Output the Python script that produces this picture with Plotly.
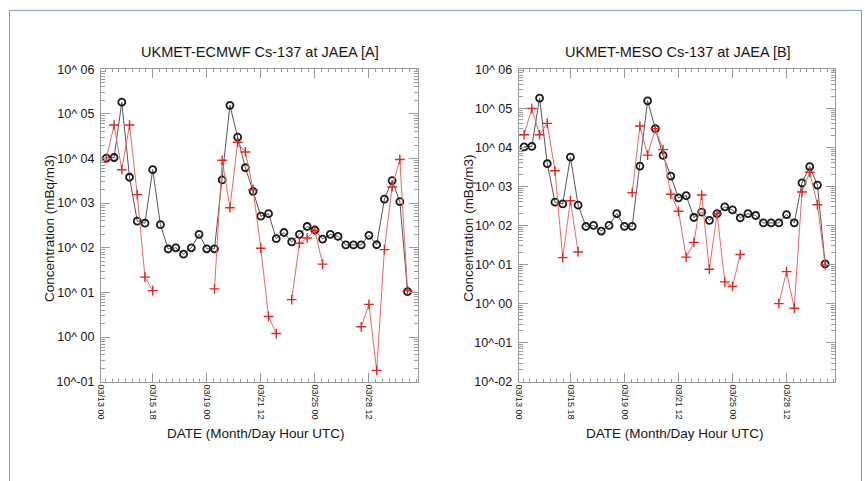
import plotly.graph_objects as go

# ---- data -------------------------------------------------------------
sample = list(range(1, 41))  # measurement sample number (x positions)

tick_pos = [0.3, 7, 14, 21, 28, 35]
tick_labels = ["03/13 00", "03/15 18", "03/19 00", "03/21 12", "03/25 00", "03/28 12"]

# JAEA observed Cs-137 (mBq/m3)
observed = [1.02e4, 1.05e4, 1.82e5, 3.8e3, 3.95e2, 3.55e2, 5.6e3, 3.3e2, 9.4e1, 1.0e2,
            7.2e1, 1.0e2, 2.0e2, 9.5e1, 9.5e1, 3.3e3, 1.55e5, 3.0e4, 6.2e3, 1.84e3,
            5.1e2, 5.8e2, 1.6e2, 2.2e2, 1.35e2, 2.0e2, 3.0e2, 2.5e2, 1.57e2, 2.0e2,
            1.8e2, 1.16e2, 1.16e2, 1.16e2, 1.9e2, 1.17e2, 1.23e3, 3.2e3, 1.08e3, 1.04e1]

# UKMET-ECMWF model
ecmwf = [1.0e4, 5.6e4, 5.6e3, 5.6e4, 1.55e3, 2.2e1, 1.1e1, None, None, None,
         None, None, None, None, 1.2e1, 9.1e3, 7.9e2, 2.3e4, 1.4e4, 2.0e3,
         9.8e1, 2.9e0, 1.2e0, None, 6.9e0, 1.26e2, 1.66e2, 2.45e2, 4.3e1, None,
         None, None, None, 1.7e0, 5.4e0, 1.8e-1, 9.1e1, 2.3e3, 9.5e3, 1.1e1]

# UKMET-MESO model
meso = [2.1e4, 9.8e4, 2.1e4, 4.1e4, 2.5e3, 1.5e1, 4.3e2, 2.1e1, None, None,
        None, None, None, None, 6.9e2, 3.5e4, 6.3e3, 3.0e4, 8.7e3, 6.3e2,
        2.3e2, 1.55e1, 3.7e1, 6.0e2, 7.6e0, 2.0e2, 3.6e0, 2.75e0, 1.8e1, None,
        None, None, None, 1.0e0, 6.6e0, 7.6e-1, 7.2e2, 2.3e3, 3.4e2, 9.8e0]

ytick_vals_a = [1e6, 1e5, 1e4, 1e3, 1e2, 1e1, 1e0, 1e-1]
ytick_text_a = ["10^ 06", "10^ 05", "10^ 04", "10^ 03", "10^ 02", "10^ 01", "10^ 00", "10^-01"]
ytick_vals_b = ytick_vals_a + [1e-2]
ytick_text_b = ytick_text_a + ["10^-02"]

# ---- styling ------------------------------------------------------------
FONT = "Liberation Sans, Arial, Helvetica, sans-serif"
TXT = "#161616"
AXC = "#9a9a9a"
RED = "#e3261d"

fig = go.Figure()

def add_panel(model, xa, ya):
    fig.add_trace(go.Scatter(
        x=sample, y=observed, xaxis=xa, yaxis=ya, mode="lines+markers",
        line=dict(color="#555555", width=1),
        marker=dict(symbol="circle-open", size=7, color="#1a1a1a", line=dict(width=1.8, color="#1a1a1a")),
        showlegend=False, hoverinfo="skip"))
    fig.add_trace(go.Scatter(
        x=sample, y=model, xaxis=xa, yaxis=ya, mode="lines+markers", connectgaps=False,
        line=dict(color="#e66a62", width=1),
        marker=dict(symbol="cross-thin", size=7, color=RED, line=dict(width=1.4, color=RED)),
        showlegend=False, hoverinfo="skip"))

add_panel(ecmwf, "x", "y")
add_panel(meso, "x2", "y2")

def minor_vals(lo, hi):
    out = []
    for e in range(lo, hi):
        for m in range(2, 10):
            out.append(m * 10.0 ** e)
    return out

def xaxis_cfg(domain, anchor):
    return dict(domain=domain, anchor=anchor, range=[0.3, 41.3], showgrid=False, zeroline=False,
                showline=True, linecolor=AXC, linewidth=1, mirror="allticks",
                ticks="inside", ticklen=9, tickcolor=AXC, tickwidth=1,
                tickmode="array", tickvals=tick_pos, ticktext=tick_labels, tickangle=90,
                tickfont=dict(family=FONT, size=9, color=TXT),
                minor=dict(ticks="inside", ticklen=3, tickcolor=AXC, tick0=0, dtick=0.875, showgrid=False))

def yaxis_cfg(domain, anchor, rng, tv, tt, lo, hi):
    return dict(domain=domain, anchor=anchor, type="log", range=rng, showgrid=False, zeroline=False,
                showline=True, linecolor=AXC, linewidth=1, mirror="allticks",
                ticks="inside", ticklen=9, tickcolor=AXC, tickwidth=1,
                tickmode="array", tickvals=tv, ticktext=tt, ticklabelstandoff=3,
                tickfont=dict(family=FONT, size=12.5, color=TXT),
                minor=dict(ticks="inside", ticklen=4, tickcolor=AXC, tickmode="array",
                           tickvals=minor_vals(lo, hi), showgrid=False))

ydom = [1 - 386 / 481, 1 - 64 / 481]
fig.update_layout(
    width=865, height=481, margin=dict(l=0, r=0, t=0, b=0),
    paper_bgcolor="white", plot_bgcolor="white",
    font=dict(family=FONT, color=TXT),
    xaxis=xaxis_cfg([96.5 / 865, 415 / 865], "y"),
    yaxis=yaxis_cfg(ydom, "x", [-1, 6], ytick_vals_a, ytick_text_a, -1, 6),
    xaxis2=xaxis_cfg([516.7 / 865, 835 / 865], "y2"),
    yaxis2=yaxis_cfg(ydom, "x2", [-2, 6], ytick_vals_b, ytick_text_b, -2, 6),
)

def ann(text, x, y, size, angle=0):
    fig.add_annotation(text=text, x=x, y=y, xref="paper", yref="paper", showarrow=False,
                       xanchor="center", yanchor="middle", textangle=angle,
                       font=dict(family=FONT, size=size, color=TXT))

ann("UKMET-ECMWF Cs-137 at JAEA [A]", 256.5 / 865, 1 - 46 / 481, 14.5)
ann("UKMET-MESO Cs-137 at JAEA [B]", 676.5 / 865, 1 - 46 / 481, 14.5)
ann("Concentration (mBq/m3)", 45 / 865, 1 - 228 / 481, 13.5, -90)
ann("Concentration (mBq/m3)", 466 / 865, 1 - 228 / 481, 13.5, -90)
ann("DATE (Month/Day Hour UTC)", 252 / 865, 1 - 439 / 481, 13.5)
ann("DATE (Month/Day Hour UTC)", 674 / 865, 1 - 439 / 481, 13.5)

# thin frame around the figure
fig.add_shape(type="rect", xref="paper", yref="paper", x0=4.5 / 865, x1=861.5 / 865,
              y0=-0.05, y1=1 - 3.5 / 481, line=dict(color="#7f95c6", width=1), layer="below")

fig.write_html("out.html")
